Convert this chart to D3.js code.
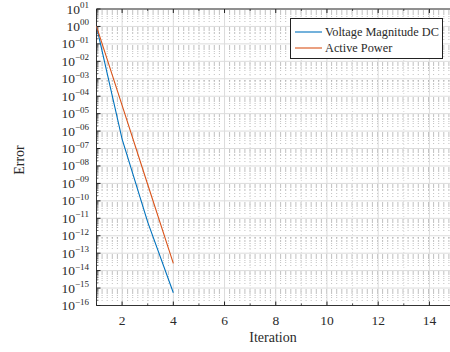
<!DOCTYPE html>
<html><head><meta charset="utf-8">
<script src="https://cdn.jsdelivr.net/npm/d3@7"></script>
<style>
body{margin:0;background:#fff;}
svg{display:block;overflow:hidden;}
text{font-family:"Liberation Serif","DejaVu Serif",serif;fill:#2a2a2a;}
</style></head>
<body>
<svg id="c" width="450" height="352"></svg>
<script>
const iterations = [1, 2, 3, 4];
const voltageMagnitudeDC = [1.0, 3.5e-7, 6e-12, 5.4e-16];
const activePower = [1.0, 3.0e-5, 8.7e-10, 2.6e-14];
const seriesNames = ["Voltage Magnitude DC", "Active Power"];
const seriesColors = ["#0072BD", "#D95319"];
const xTicks = [2, 4, 6, 8, 10, 12, 14];
const yExponents = d3.range(1, -17, -1);

const svg = d3.select("#c");
const L = 96.5, T = 9, B = 305.5, R = 455;
const x = d3.scaleLinear().domain([1, 15]).range([L, R]);
const y = d3.scaleLog().domain([1e-16, 10]).range([B, T]);

const g = svg.append("g");

// minor horizontal grid (dotted)
const minorY = [];
for (let e = -16; e < 1; e++) for (let m = 2; m <= 9; m++) minorY.push(m * Math.pow(10, e));
g.selectAll(".mgy").data(minorY).enter().append("line")
  .attr("x1", L).attr("x2", R)
  .attr("y1", d => Math.round(y(d)) + 0.5).attr("y2", d => Math.round(y(d)) + 0.5)
  .attr("stroke", "#b0b0b0").attr("stroke-width", 0.8)
  .attr("stroke-dasharray", "1,4.1");

// minor vertical grid (dotted)
const minorX = d3.range(1, 16, 2);
g.selectAll(".mgx").data(minorX).enter().append("line")
  .attr("x1", d => x(d)).attr("x2", d => x(d)).attr("y1", T).attr("y2", B)
  .attr("stroke", "#c8c8c8").attr("stroke-width", 0.7).attr("stroke-dasharray", "1,2");

// major grid
g.selectAll(".gy").data(yExponents).enter().append("line")
  .attr("x1", L).attr("x2", R)
  .attr("y1", d => y(Math.pow(10, d))).attr("y2", d => y(Math.pow(10, d)))
  .attr("stroke", "#dcdcdc").attr("stroke-width", 1);
g.selectAll(".gx").data(xTicks).enter().append("line")
  .attr("x1", d => x(d)).attr("x2", d => x(d)).attr("y1", T).attr("y2", B)
  .attr("stroke", "#dcdcdc").attr("stroke-width", 1);

// axes lines
g.append("line").attr("x1", L).attr("x2", R).attr("y1", B).attr("y2", B).attr("stroke", "#333").attr("stroke-width", 1);
g.append("line").attr("x1", L).attr("x2", R).attr("y1", T).attr("y2", T).attr("stroke", "#333").attr("stroke-width", 1);
g.append("line").attr("x1", L).attr("x2", L).attr("y1", T).attr("y2", B).attr("stroke", "#333").attr("stroke-width", 1);

// y ticks (inside)
g.selectAll(".ty").data(yExponents).enter().append("line")
  .attr("x1", L).attr("x2", L + 4)
  .attr("y1", d => y(Math.pow(10, d))).attr("y2", d => y(Math.pow(10, d)))
  .attr("stroke", "#222").attr("stroke-width", 1);
g.selectAll(".tym").data(minorY).enter().append("line")
  .attr("x1", L).attr("x2", L + 2)
  .attr("y1", d => y(d)).attr("y2", d => y(d))
  .attr("stroke", "#222").attr("stroke-width", 0.6);

// x ticks (inside, bottom and top)
g.selectAll(".tx").data(xTicks).enter().append("line")
  .attr("x1", d => x(d)).attr("x2", d => x(d)).attr("y1", B).attr("y2", B - 4)
  .attr("stroke", "#222");
g.selectAll(".txt").data(xTicks).enter().append("line")
  .attr("x1", d => x(d)).attr("x2", d => x(d)).attr("y1", T).attr("y2", T + 4)
  .attr("stroke", "#222");
g.selectAll(".txm").data(minorX).enter().append("line")
  .attr("x1", d => x(d)).attr("x2", d => x(d)).attr("y1", B).attr("y2", B - 2)
  .attr("stroke", "#222").attr("stroke-width", 0.8);
g.selectAll(".txmt").data(minorX).enter().append("line")
  .attr("x1", d => x(d)).attr("x2", d => x(d)).attr("y1", T).attr("y2", T + 2)
  .attr("stroke", "#222").attr("stroke-width", 0.8);

// y tick labels
const fmt = e => (e < 0 ? "\u2212" : "") + String(Math.abs(e)).padStart(2, "0");
const yl = g.selectAll(".yl").data(yExponents).enter().append("text")
  .attr("x", 89).attr("y", d => y(Math.pow(10, d)) + 4.5)
  .attr("text-anchor", "end").style("font-size", "13.5px");
yl.append("tspan").text("10");
yl.append("tspan").attr("dy", -5.5).style("font-size", "9px").text(d => fmt(d));

// x tick labels
g.selectAll(".xl").data(xTicks).enter().append("text")
  .attr("x", d => x(d)).attr("y", 325).attr("text-anchor", "middle")
  .style("font-size", "13.5px").text(d => d);

// axis titles
g.append("text").attr("x", 273).attr("y", 342).attr("text-anchor", "middle")
  .style("font-size", "14px").text("Iteration");
g.append("text").attr("transform", "translate(24,160) rotate(-90)").attr("text-anchor", "middle")
  .style("font-size", "14px").text("Error");

// series
const series = [voltageMagnitudeDC, activePower];
const line = d3.line().x((d, i) => x(iterations[i])).y(d => y(d));
series.forEach((s, k) => {
  g.append("path").datum(s).attr("d", line).attr("fill", "none")
    .attr("stroke", seriesColors[k]).attr("stroke-width", 1.1);
});

// legend
const lg = g.append("g");
lg.append("rect").attr("x", 290.5).attr("y", 18.5).attr("width", 152).attr("height", 40)
  .attr("fill", "#fff").attr("stroke", "#222").attr("stroke-width", 1);
seriesNames.forEach((n, k) => {
  const yy = 32 + k * 16;
  lg.append("line").attr("x1", 295).attr("x2", 322).attr("y1", yy).attr("y2", yy)
    .attr("stroke", seriesColors[k]).attr("stroke-width", 1.1);
  lg.append("text").attr("x", 325).attr("y", yy + 4).style("font-size", "12.3px").text(n);
});
</script>
</body></html>
